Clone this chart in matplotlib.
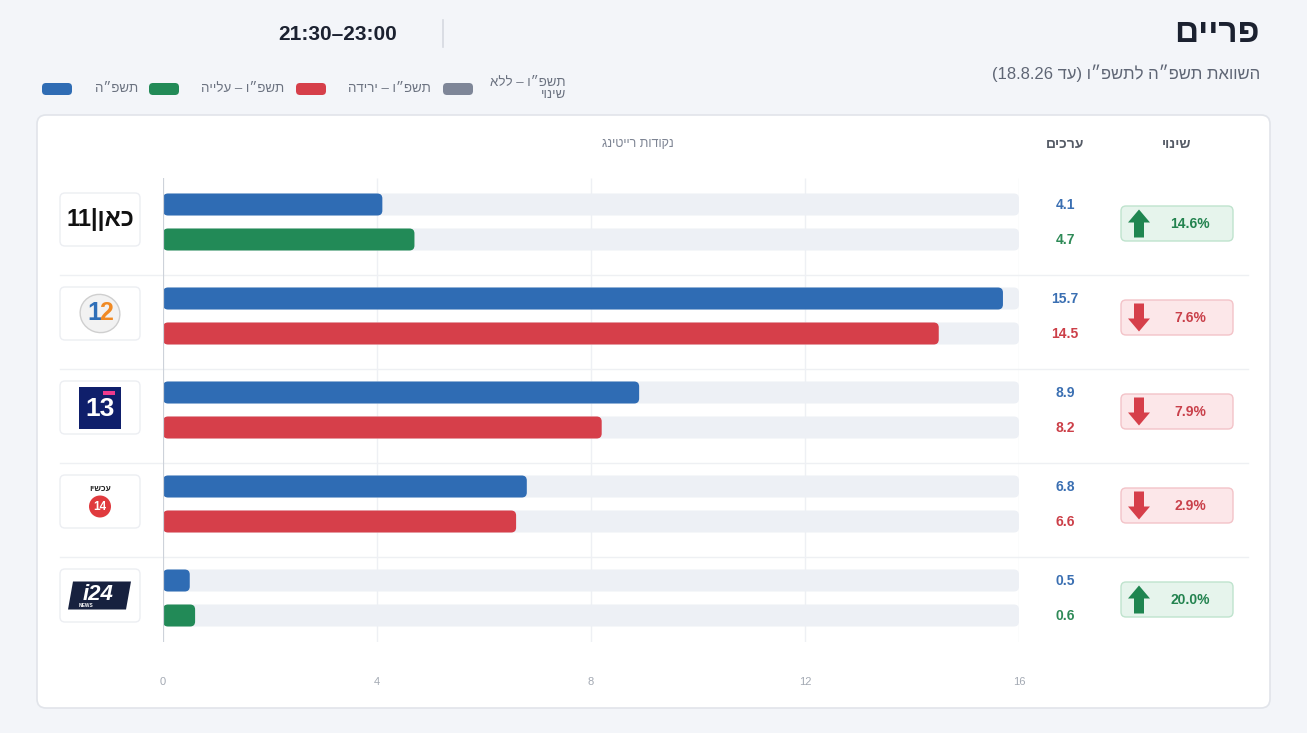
import re

import matplotlib
matplotlib.use('Agg')
import matplotlib.pyplot as plt
from matplotlib.patches import FancyBboxPatch, Polygon, Circle, Ellipse

plt.rcParams['font.family'] = ['Liberation Sans', 'DejaVu Sans']

# data
channels = ['כאן 11', 'קשת 12', 'רשת 13', 'עכשיו 14', 'i24NEWS']
prev_vals = [4.1, 15.7, 8.9, 6.8, 0.5]   # תשפ"ה
curr_vals = [4.7, 14.5, 8.2, 6.6, 0.6]   # תשפ"ו
x_ticks = [0, 4, 8, 12, 16]

title = 'פריים'
subtitle = 'השוואת תשפ״ה לתשפ״ו (עד 18.8.26)'
time_slot = '21:30–23:00'
legend_labels = ['תשפ״ה', 'תשפ״ו – עלייה', 'תשפ״ו – ירידה', 'תשפ״ו – ללא\nשינוי']
hdr_change = 'שינוי'
hdr_values = 'ערכים'
hdr_axis = 'נקודות רייטינג'

BLUE = '#2f6cb4'
GREEN = '#228a57'
RED = '#d63f4a'
GREY = '#7e8698'
TRACK = '#edf0f5'
legend_colors = [BLUE, GREEN, RED, GREY]


def vis(s):
    # crude bidi: reverse for RTL display, keep LTR runs in order
    out = []
    for line in s.split('\n'):
        r = line[::-1]
        r = re.sub(r'[0-9A-Za-z.:%]+', lambda m: m.group(0)[::-1], r)
        r = r.translate(str.maketrans('()', ')('))
        out.append(r)
    return '\n'.join(out)


W, H = 1307, 733
fig = plt.figure(figsize=(W / 100, H / 100), dpi=100)
fig.patch.set_facecolor('#f3f5f9')

bg = fig.add_axes([0, 0, 1, 1])
bg.set_xlim(0, W)
bg.set_ylim(H, 0)
bg.axis('off')

# header
bg.text(1260, 33, vis(title), ha='right', va='center', fontsize=24, fontweight='bold', color='#1b2130')
bg.text(1260, 73, vis(subtitle), ha='right', va='center', fontsize=12, color='#5f6675')
bg.text(338, 34, time_slot, ha='center', va='center', fontsize=15, fontweight='bold', color='#1b2130')
bg.plot([443, 443], [20, 47], color='#d5d9e0', lw=1.2)

# legend
sw_x = [42, 149, 296, 443]
lab_right = [138, 284, 431, 566]
for lab, col, sx, lr in zip(legend_labels, legend_colors, sw_x, lab_right):
    bg.add_patch(FancyBboxPatch((sx, 83), 30, 12, boxstyle='round,pad=0,rounding_size=4',
                                fc=col, ec='none'))
    bg.text(lr, 89, vis(lab), ha='right', va='center', multialignment='right',
            fontsize=9.5, color='#6b7280', linespacing=0.95)

# card
bg.add_patch(FancyBboxPatch((37, 115), 1233, 593, boxstyle='round,pad=0,rounding_size=9',
                            fc='white', ec='#e1e4ea', lw=1.2))

bg.text(1177, 144, vis(hdr_change), ha='center', va='center', fontsize=10, fontweight='bold', color='#555b66')
bg.text(1065, 144, vis(hdr_values), ha='center', va='center', fontsize=10, fontweight='bold', color='#555b66')
bg.text(638, 144, vis(hdr_axis), ha='center', va='center', fontsize=9, color='#7d8493')

row0, row_gap = 222, 94
n = len(channels)
for i in range(n - 1):
    y = row0 + row_gap * i + 53
    bg.plot([60, 1248], [y, y], color='#eef0f3', lw=1)

# bar axes
ax_l, ax_r, ax_t, ax_b = 163, 1019, 178, 642
ax = fig.add_axes([ax_l / W, 1 - ax_b / H, (ax_r - ax_l) / W, (ax_b - ax_t) / H])
ax.set_zorder(2)
ax.patch.set_alpha(0)
xmax = x_ticks[-1]
ax.set_xlim(0, xmax)
ax.set_ylim((ax_b - row0) / row_gap, (ax_t - row0) / row_gap)
for s in ax.spines.values():
    s.set_visible(False)
ax.set_yticks([])
ax.set_xticks(x_ticks)
ax.set_xticklabels([str(t) for t in x_ticks], fontsize=8, color='#a3a9b3')
ax.tick_params(axis='x', length=0, pad=25)
ax.vlines(x_ticks[1:], *ax.get_ylim(), color='#eef0f4', lw=1, zorder=0)
ax.axvline(0, color='#cdd2da', lw=1.6, zorder=5)

sx_px = (ax_r - ax_l) / xmax
ma = sx_px / row_gap
rr = 5 / sx_px
bh = 22 / row_gap
off = 17.5 / row_gap


def rbar(x0, yc, w, color, z):
    ax.add_patch(FancyBboxPatch((x0, yc - bh / 2), w, bh,
                                boxstyle=f'round,pad=0,rounding_size={min(rr, w / 2)}',
                                mutation_aspect=ma, fc=color, ec='none', zorder=z, clip_on=False))


for i, (p, c) in enumerate(zip(prev_vals, curr_vals)):
    col2 = GREEN if c > p else (RED if c < p else GREY)
    rbar(0, i - off, xmax, TRACK, 1)
    rbar(0, i + off, xmax, TRACK, 1)
    rbar(0, i - off, p, BLUE, 2)
    rbar(0, i + off, c, col2, 2)

    yc = row0 + row_gap * i
    bg.text(1065, yc - 17, f'{p:.1f}', ha='center', va='center', fontsize=10, fontweight='bold', color='#3a6fb2')
    bg.text(1065, yc + 18, f'{c:.1f}', ha='center', va='center', fontsize=10, fontweight='bold',
            color='#2e8a57' if c > p else ('#cc3f48' if c < p else GREY))

    # change badge
    pct = (c - p) / p * 100
    if pct > 0:
        bfc, bec, tc = '#e6f4ec', '#bfe3cd', '#23834f'
    elif pct < 0:
        bfc, bec, tc = '#fce7e9', '#f3c3c8', '#c9404a'
    else:
        bfc, bec, tc = '#eef0f3', '#d5d9e0', GREY
    by = yc + 1.5
    bg.add_patch(FancyBboxPatch((1121, by - 17.5), 112, 35, boxstyle='round,pad=0,rounding_size=5',
                                fc=bfc, ec=bec, lw=1))
    ax_c = 1139
    if pct >= 0:
        t, b = by - 14, by + 14
        pts = [(ax_c, t), (ax_c + 11, t + 13), (ax_c + 5, t + 13), (ax_c + 5, b),
               (ax_c - 5, b), (ax_c - 5, t + 13), (ax_c - 11, t + 13)]
        acol = '#1f8550'
    else:
        t, b = by + 14, by - 14
        pts = [(ax_c, t), (ax_c + 11, t - 13), (ax_c + 5, t - 13), (ax_c + 5, b),
               (ax_c - 5, b), (ax_c - 5, t - 13), (ax_c - 11, t - 13)]
        acol = '#d63f4a'
    bg.add_patch(Polygon(pts, closed=True, fc=acol, ec='none'))
    bg.text(1190, by, f'{abs(pct):.1f}%', ha='center', va='center', fontsize=10, fontweight='bold', color=tc)

    # logo box
    bg.add_patch(FancyBboxPatch((60, yc - 29), 80, 53, boxstyle='round,pad=0,rounding_size=5',
                                fc='white', ec='#eceef2', lw=1))

# logos (rough)
yc = row0 - 2.5
bg.text(100, yc, vis('כאן|11'), ha='center', va='center', fontsize=17, fontweight='bold', color='#111111')

yc = row0 + row_gap - 2.5
bg.add_patch(Ellipse((100, yc), 40, 38, angle=20, fc='#f2f2f2', ec='#cfcfcf', lw=1))
bg.text(94, yc, '1', ha='center', va='center', fontsize=18, fontweight='bold', color='#2f6fb8')
bg.text(106, yc, '2', ha='center', va='center', fontsize=18, fontweight='bold', color='#f08a24')

yc = row0 + row_gap * 2 - 2.5
bg.add_patch(Polygon([(79, yc - 21), (121, yc - 21), (121, yc + 21), (79, yc + 21)], fc='#0f1f6b', ec='none'))
bg.text(100, yc + 1, '13', ha='center', va='center', fontsize=19, fontweight='bold', color='white')
bg.add_patch(Polygon([(103, yc - 17), (115, yc - 17), (115, yc - 13), (103, yc - 13)], fc='#ee3a8c', ec='none'))

yc = row0 + row_gap * 3 - 2.5
bg.text(100, yc - 12, vis('עכשיו'), ha='center', va='center', fontsize=6, fontweight='bold', color='#222222')
bg.add_patch(Circle((100, yc + 5), 11, fc='#e03a3e', ec='none'))
bg.text(100, yc + 5, '14', ha='center', va='center', fontsize=8.5, fontweight='bold', color='white')

yc = row0 + row_gap * 4 - 2.5
bg.add_patch(Polygon([(73, yc - 14), (131, yc - 14), (126, yc + 14), (68, yc + 14)], fc='#17213f', ec='none'))
bg.text(98, yc - 1, 'i24', ha='center', va='center', fontsize=16, fontweight='bold', style='italic', color='white')
bg.text(86, yc + 10, 'NEWS', ha='center', va='center', fontsize=3.5, fontweight='bold', color='white')

fig.savefig('out.png', dpi=100, facecolor=fig.get_facecolor())
